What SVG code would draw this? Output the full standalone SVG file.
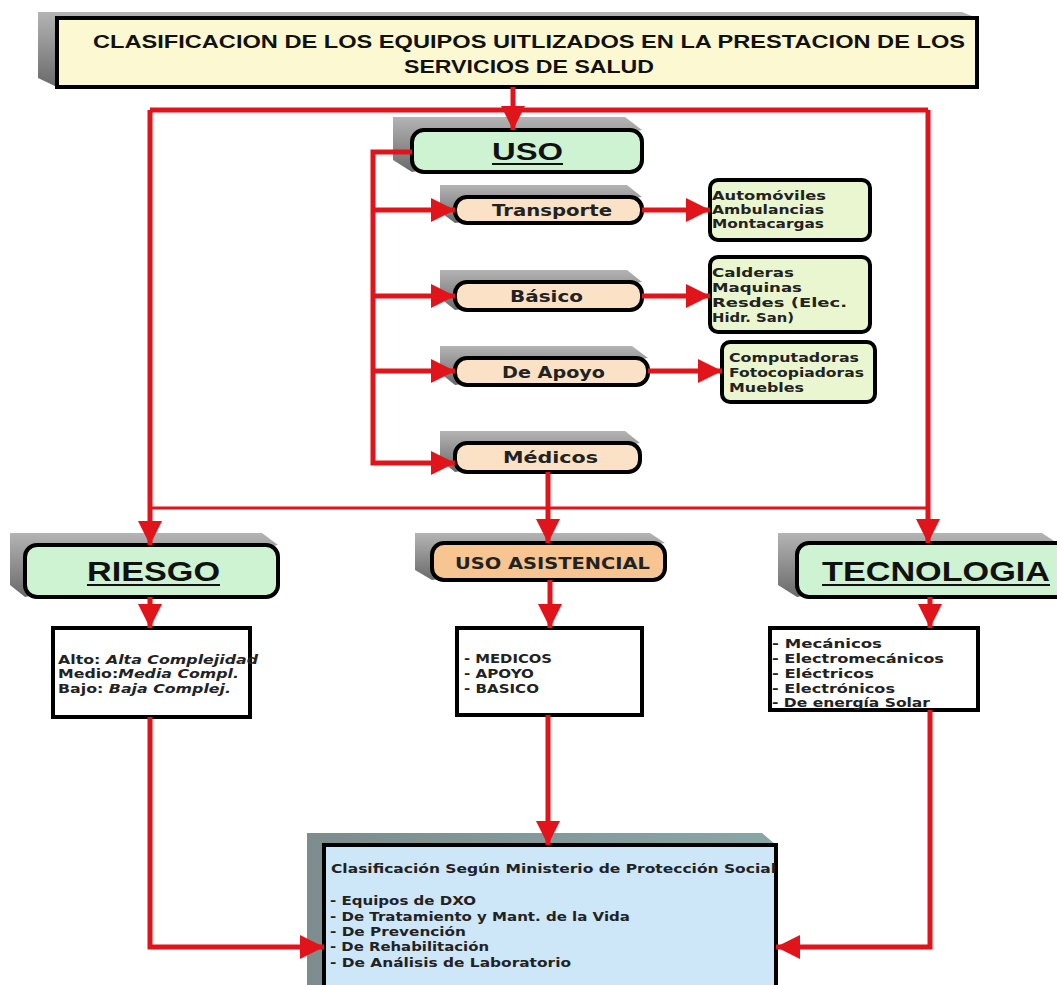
<svg xmlns="http://www.w3.org/2000/svg" width="1057" height="985" viewBox="0 0 1057 985">
<defs>
<linearGradient id="sh" x1="0" y1="0" x2="0" y2="1">
<stop offset="0" stop-color="#b4b4b4"/><stop offset="1" stop-color="#6a6a6a"/>
</linearGradient>
<linearGradient id="shb" x1="0" y1="0" x2="1" y2="0">
<stop offset="0" stop-color="#7d8c8c"/><stop offset="1" stop-color="#8aa6a6"/>
</linearGradient>
<marker id="ar" markerUnits="userSpaceOnUse" markerWidth="26" markerHeight="24" refX="24" refY="12" orient="auto">
<path d="M0,0 L24,12 L0,24 Z" fill="#e0141a"/>
</marker>
<style>
.sh{fill:url(#sh)}
.fr{stroke:#000;stroke-width:4}
.c{fill:none;stroke:#e0141a;stroke-width:5}
.t{font-family:"Liberation Sans",Arial,sans-serif;font-weight:bold;fill:#111}
.v{font-family:"DejaVu Sans",Verdana,sans-serif;font-weight:bold;fill:#222}
.green{fill:#cdf3d2}
.peach{fill:#fbe2c6}
.out{fill:#eaf6cf}
</style>
</defs>
<rect width="1057" height="985" fill="#fff"/>

<g id="title">
<polygon class="sh" points="38,12 962,12 977,18 57,87 38,78"/>
<rect class="fr" x="57" y="18" width="920" height="69" fill="#fcf9d2"/>
<text class="t" x="93" y="48" font-size="18" textLength="872" lengthAdjust="spacingAndGlyphs">CLASIFICACION DE LOS EQUIPOS UITLIZADOS EN LA PRESTACION DE LOS</text>
<text class="t" x="529" y="73" font-size="18" text-anchor="middle" textLength="250" lengthAdjust="spacingAndGlyphs">SERVICIOS DE SALUD</text>
</g>

<g id="uso">
<polygon class="sh" points="393,117 625,117 642,130 412,172 393,160"/>
<rect class="fr green" x="412" y="130" width="230" height="42" rx="12"/>
<text class="t" x="492" y="160" font-size="24" textLength="71" lengthAdjust="spacingAndGlyphs">USO</text>
<line x1="492" y1="164" x2="563" y2="164" stroke="#111" stroke-width="2"/>
</g>

<g id="transporte">
<polygon class="sh" points="440,185 627,185 642,197 455,223 440,212"/>
<rect class="fr peach" x="455" y="197" width="187" height="26" rx="12"/>
<text class="v" x="492" y="216" font-size="15" textLength="120" lengthAdjust="spacingAndGlyphs">Transporte</text>
</g>
<g id="transporte-list">
<rect class="fr out" x="710" y="180" width="160" height="60" rx="8"/>
<text class="v" x="712" y="200" font-size="13" textLength="114" lengthAdjust="spacingAndGlyphs">Automóviles</text>
<text class="v" x="712" y="214" font-size="13" textLength="112" lengthAdjust="spacingAndGlyphs">Ambulancias</text>
<text class="v" x="712" y="228" font-size="13" textLength="112" lengthAdjust="spacingAndGlyphs">Montacargas</text>
</g>

<g id="basico">
<polygon class="sh" points="440,270 627,270 642,282 455,310 440,298"/>
<rect class="fr peach" x="455" y="282" width="187" height="28" rx="12"/>
<text class="v" x="510" y="302" font-size="15" textLength="73" lengthAdjust="spacingAndGlyphs">Básico</text>
</g>
<g id="basico-list">
<rect class="fr out" x="710" y="257" width="160" height="75" rx="8"/>
<text class="v" x="712" y="277" font-size="13" textLength="82" lengthAdjust="spacingAndGlyphs">Calderas</text>
<text class="v" x="712" y="292" font-size="13" textLength="90" lengthAdjust="spacingAndGlyphs">Maquinas</text>
<text class="v" x="712" y="307" font-size="13" textLength="135" lengthAdjust="spacingAndGlyphs">Resdes (Elec.</text>
<text class="v" x="712" y="322" font-size="13" textLength="82" lengthAdjust="spacingAndGlyphs">Hidr. San)</text>
</g>

<g id="apoyo">
<polygon class="sh" points="440,346 632,346 648,358 455,385 440,373"/>
<rect class="fr peach" x="455" y="358" width="193" height="27" rx="12"/>
<text class="v" x="502" y="378" font-size="15" textLength="103" lengthAdjust="spacingAndGlyphs">De Apoyo</text>
</g>
<g id="apoyo-list">
<rect class="fr out" x="722" y="342" width="153" height="60" rx="8"/>
<text class="v" x="729" y="362" font-size="13" textLength="130" lengthAdjust="spacingAndGlyphs">Computadoras</text>
<text class="v" x="729" y="377" font-size="13" textLength="135" lengthAdjust="spacingAndGlyphs">Fotocopiadoras</text>
<text class="v" x="729" y="392" font-size="13" textLength="75" lengthAdjust="spacingAndGlyphs">Muebles</text>
</g>

<g id="medicos">
<polygon class="sh" points="440,431 625,431 640,443 455,472 440,460"/>
<rect class="fr peach" x="455" y="443" width="185" height="29" rx="12"/>
<text class="v" x="503" y="463" font-size="15" textLength="95" lengthAdjust="spacingAndGlyphs">Médicos</text>
</g>

<g id="riesgo">
<polygon class="sh" points="10,533 262,533 278,545 25,597 10,585"/>
<rect class="fr green" x="25" y="545" width="253" height="52" rx="12"/>
<text class="t" x="87" y="581" font-size="27" textLength="133" lengthAdjust="spacingAndGlyphs">RIESGO</text>
<line x1="87" y1="585" x2="220" y2="585" stroke="#111" stroke-width="2"/>
</g>
<g id="riesgo-list">
<rect class="fr" x="53" y="628" width="197" height="89" fill="#fff"/>
<text class="v" x="58" y="664" font-size="13" textLength="200" lengthAdjust="spacingAndGlyphs">Alto: <tspan font-style="italic">Alta Complejidad</tspan></text>
<text class="v" x="58" y="678" font-size="13" textLength="181" lengthAdjust="spacingAndGlyphs">Medio:<tspan font-style="italic">Media Compl.</tspan></text>
<text class="v" x="58" y="693" font-size="13" textLength="173" lengthAdjust="spacingAndGlyphs">Bajo: <tspan font-style="italic">Baja Complej.</tspan></text>
</g>

<g id="uso-asistencial">
<polygon class="sh" points="415,533 650,533 665,543 432,580 415,570"/>
<rect class="fr" x="432" y="543" width="233" height="37" rx="12" fill="#f6c592"/>
<text class="v" x="455" y="569" font-size="15" textLength="195" lengthAdjust="spacingAndGlyphs">USO ASISTENCIAL</text>
</g>
<g id="asistencial-list">
<rect class="fr" x="457" y="628" width="185" height="87" fill="#fff"/>
<text class="v" x="464" y="663" font-size="13" textLength="88" lengthAdjust="spacingAndGlyphs">- MEDICOS</text>
<text class="v" x="464" y="678" font-size="13" textLength="70" lengthAdjust="spacingAndGlyphs">- APOYO</text>
<text class="v" x="464" y="693" font-size="13" textLength="75" lengthAdjust="spacingAndGlyphs">- BASICO</text>
</g>

<g id="tecnologia">
<polygon class="sh" points="778,533 1042,533 1057,543 797,597 778,585"/>
<rect class="fr green" x="797" y="543" width="272" height="54" rx="12"/>
<text class="t" x="822" y="581" font-size="27" textLength="228" lengthAdjust="spacingAndGlyphs">TECNOLOGIA</text>
<line x1="822" y1="585" x2="1050" y2="585" stroke="#111" stroke-width="2"/>
</g>
<g id="tecnologia-list">
<rect class="fr" x="770" y="628" width="208" height="82" fill="#fff"/>
<text class="v" x="772" y="648" font-size="13" textLength="110" lengthAdjust="spacingAndGlyphs">- Mecánicos</text>
<text class="v" x="772" y="663" font-size="13" textLength="172" lengthAdjust="spacingAndGlyphs">- Electromecánicos</text>
<text class="v" x="772" y="678" font-size="13" textLength="102" lengthAdjust="spacingAndGlyphs">- Eléctricos</text>
<text class="v" x="772" y="693" font-size="13" textLength="123" lengthAdjust="spacingAndGlyphs">- Electrónicos</text>
<text class="v" x="772" y="707" font-size="13" textLength="158" lengthAdjust="spacingAndGlyphs">- De energía Solar</text>
</g>

<g id="ministerio">
<polygon points="307,833 762,833 776,845 324,985 307,985" fill="url(#shb)"/>
<rect class="fr" x="324" y="845" width="452" height="145" fill="#cde6f8"/>
<text class="v" x="331" y="873" font-size="13" textLength="445" lengthAdjust="spacingAndGlyphs">Clasificación Según Ministerio de Protección Social</text>
<text class="v" x="330" y="905" font-size="13" textLength="146" lengthAdjust="spacingAndGlyphs">- Equipos de DXO</text>
<text class="v" x="330" y="921" font-size="13" textLength="300" lengthAdjust="spacingAndGlyphs">- De Tratamiento y Mant. de la Vida</text>
<text class="v" x="330" y="936" font-size="13" textLength="136" lengthAdjust="spacingAndGlyphs">- De Prevención</text>
<text class="v" x="330" y="951" font-size="13" textLength="159" lengthAdjust="spacingAndGlyphs">- De Rehabilitación</text>
<text class="v" x="330" y="967" font-size="13" textLength="241" lengthAdjust="spacingAndGlyphs">- De Análisis de Laboratorio</text>
</g>

<g id="connectors">
<line class="c" x1="150" y1="110" x2="928" y2="110"/>
<path class="c" d="M150,110 V545" marker-end="url(#ar)"/>
<path class="c" d="M928,110 V543" marker-end="url(#ar)"/>
<path class="c" d="M513,87 V130" marker-end="url(#ar)"/>
<line class="c" x1="150" y1="508" x2="928" y2="508" style="stroke-width:3"/>
<path class="c" d="M548,472 V543" marker-end="url(#ar)"/>
<path class="c" d="M412,152 H373 V463 H455" marker-end="url(#ar)"/>
<path class="c" d="M373,210 H455" marker-end="url(#ar)"/>
<path class="c" d="M373,296 H455" marker-end="url(#ar)"/>
<path class="c" d="M373,371 H455" marker-end="url(#ar)"/>
<path class="c" d="M642,210 H710" marker-end="url(#ar)"/>
<path class="c" d="M642,296 H710" marker-end="url(#ar)"/>
<path class="c" d="M648,371 H722" marker-end="url(#ar)"/>
<path class="c" d="M150,597 V628" marker-end="url(#ar)"/>
<path class="c" d="M550,580 V628" marker-end="url(#ar)"/>
<path class="c" d="M930,597 V628" marker-end="url(#ar)"/>
<path class="c" d="M150,717 V947 H324" marker-end="url(#ar)"/>
<path class="c" d="M548,715 V845" marker-end="url(#ar)"/>
<path class="c" d="M930,710 V947 H776" marker-end="url(#ar)"/>
</g>
</svg>
